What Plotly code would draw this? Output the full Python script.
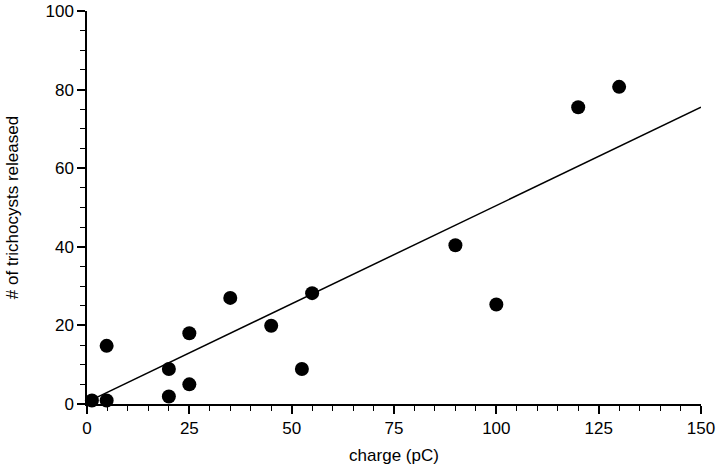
import plotly.graph_objects as go

charge_pC = [1.2, 4.8, 4.8, 20, 20, 25, 25, 35, 45, 52.5, 55, 90, 100, 120, 130]
trichocysts = [0.9, 0.9, 14.8, 8.9, 1.9, 18.0, 5.0, 27.0, 19.9, 8.9, 28.2, 40.4, 25.3, 75.5, 80.7]

fit_x = [1.0, 150.0]
fit_intercept = 0.5
fit_slope = 0.5
fit_y = [fit_intercept + fit_slope * x for x in fit_x]

x_ticks = [0, 25, 50, 75, 100, 125, 150]
y_ticks = [0, 20, 40, 60, 80, 100]

font_family = "Liberation Sans, Arial, sans-serif"

fig = go.Figure()
fig.add_trace(go.Scatter(x=fit_x, y=fit_y, mode="lines",
                         line=dict(color="black", width=1.5),
                         showlegend=False, cliponaxis=False, hoverinfo="skip"))
fig.add_trace(go.Scatter(x=charge_pC, y=trichocysts, mode="markers",
                         marker=dict(color="black", size=14, line=dict(width=0)),
                         showlegend=False, cliponaxis=False))

axis_common = dict(
    showgrid=False, zeroline=False, showline=True, linecolor="black", linewidth=1.5,
    ticks="outside", ticklen=8, tickwidth=1.5, tickcolor="black",
    tickfont=dict(family=font_family, size=17, color="black"),
    minor=dict(ticks="outside", ticklen=5, tickwidth=1.2, tickcolor="black", dtick=5, showgrid=False),
    automargin=False,
)

fig.update_layout(
    width=720, height=474,
    margin=dict(l=87, r=19, t=11, b=70),
    plot_bgcolor="white", paper_bgcolor="white",
    font=dict(family=font_family, size=17, color="black"),
    xaxis=dict(range=[0, 150], tickvals=x_ticks,
               title=dict(text="charge (pC)", font=dict(family=font_family, size=17), standoff=12),
               **axis_common),
    yaxis=dict(range=[0, 100], tickvals=y_ticks,
               title=dict(text="# of trichocysts released", font=dict(family=font_family, size=17), standoff=23),
               **axis_common),
)

fig.write_html("out.html", config={"displayModeBar": False},
               post_script="document.body.style.margin='0';")
